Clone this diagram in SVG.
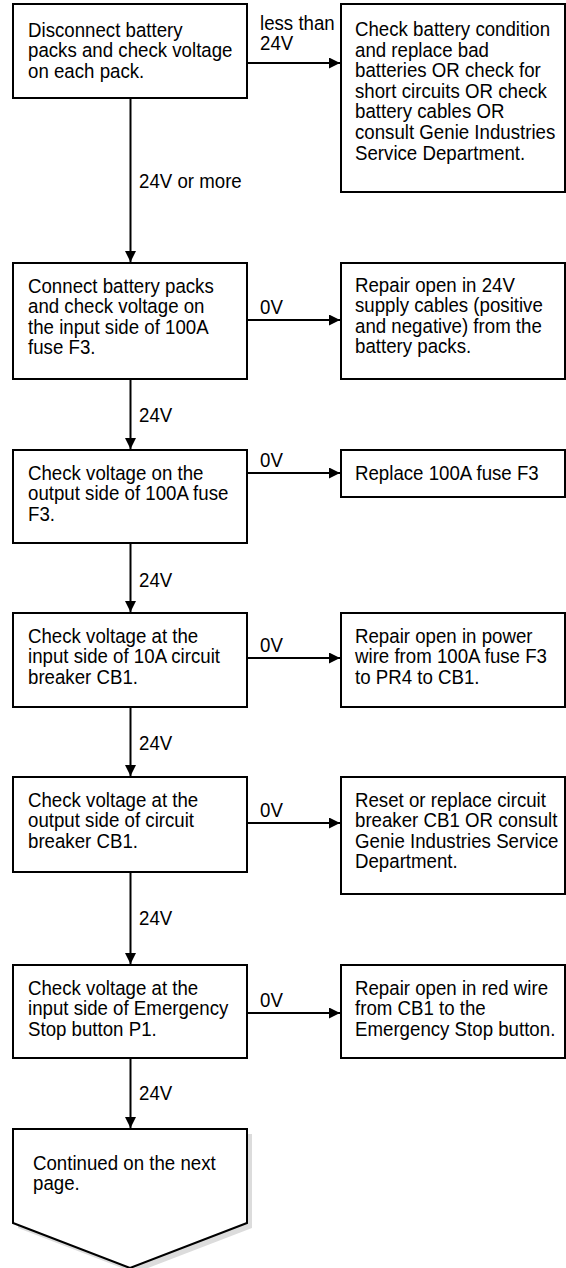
<svg xmlns="http://www.w3.org/2000/svg" width="566" height="1268" viewBox="0 0 566 1268">
<style>
.box{fill:#fff;stroke:#000;stroke-width:2}
.c{fill:none;stroke:#000;stroke-width:2}
.t{font-family:"Liberation Sans",Arial,sans-serif;font-size:20.3px;fill:#000}
</style>
<defs>
<marker id="ah" markerUnits="userSpaceOnUse" markerWidth="11" markerHeight="11" viewBox="0 0 11 11" refX="11" refY="5.5" orient="auto">
<path d="M0,0 L11,5.5 L0,11 z" fill="#000"/>
</marker>
</defs>
<rect width="566" height="1268" fill="#fff"/>
<g id="connectors">
<line class="c" x1="248" y1="63" x2="340" y2="63" marker-end="url(#ah)"/>
<line class="c" x1="130.5" y1="98" x2="130.5" y2="262" marker-end="url(#ah)"/>
<line class="c" x1="248" y1="320" x2="340" y2="320" marker-end="url(#ah)"/>
<line class="c" x1="130.5" y1="379" x2="130.5" y2="449" marker-end="url(#ah)"/>
<line class="c" x1="248" y1="473" x2="340" y2="473" marker-end="url(#ah)"/>
<line class="c" x1="130.5" y1="543" x2="130.5" y2="612" marker-end="url(#ah)"/>
<line class="c" x1="248" y1="658" x2="340" y2="658" marker-end="url(#ah)"/>
<line class="c" x1="130.5" y1="707" x2="130.5" y2="776" marker-end="url(#ah)"/>
<line class="c" x1="248" y1="823" x2="340" y2="823" marker-end="url(#ah)"/>
<line class="c" x1="130.5" y1="872" x2="130.5" y2="964" marker-end="url(#ah)"/>
<line class="c" x1="248" y1="1013" x2="340" y2="1013" marker-end="url(#ah)"/>
<line class="c" x1="130.5" y1="1058" x2="130.5" y2="1128" marker-end="url(#ah)"/>
<text class="t" transform="translate(260,30) scale(0.92,1)"><tspan x="0" y="0">less than</tspan><tspan x="0" y="20.4">24V</tspan></text>
<text class="t" transform="translate(139,188) scale(0.92,1)">24V or more</text>
<text class="t" transform="translate(260,314) scale(0.92,1)">0V</text>
<text class="t" transform="translate(139,422) scale(0.92,1)">24V</text>
<text class="t" transform="translate(260,467) scale(0.92,1)">0V</text>
<text class="t" transform="translate(139,587) scale(0.92,1)">24V</text>
<text class="t" transform="translate(260,652) scale(0.92,1)">0V</text>
<text class="t" transform="translate(139,750) scale(0.92,1)">24V</text>
<text class="t" transform="translate(260,817) scale(0.92,1)">0V</text>
<text class="t" transform="translate(139,925) scale(0.92,1)">24V</text>
<text class="t" transform="translate(260,1007) scale(0.92,1)">0V</text>
<text class="t" transform="translate(139,1100) scale(0.92,1)">24V</text>
</g>
<g id="n1">
<rect class="box" x="13" y="4" width="234" height="94"/>
<text class="t" transform="translate(28,37) scale(0.92,1)"><tspan x="0" y="0">Disconnect battery</tspan><tspan x="0" y="20.4">packs and check voltage</tspan><tspan x="0" y="40.8">on each pack.</tspan></text>
</g>
<g id="r1">
<rect class="box" x="341" y="4" width="224" height="188"/>
<text class="t" transform="translate(355,36) scale(0.92,1)"><tspan x="0" y="0">Check battery condition</tspan><tspan x="0" y="20.6">and replace bad</tspan><tspan x="0" y="41.2">batteries OR check for</tspan><tspan x="0" y="61.8">short circuits OR check</tspan><tspan x="0" y="82.4">battery cables OR</tspan><tspan x="0" y="103">consult Genie Industries</tspan><tspan x="0" y="123.6">Service Department.</tspan></text>
</g>
<g id="n2">
<rect class="box" x="13" y="263" width="234" height="116"/>
<text class="t" transform="translate(28,293) scale(0.92,1)"><tspan x="0" y="0">Connect battery packs</tspan><tspan x="0" y="20.4">and check voltage on</tspan><tspan x="0" y="40.8">the input side of 100A</tspan><tspan x="0" y="61.2">fuse F3.</tspan></text>
</g>
<g id="r2">
<rect class="box" x="341" y="263" width="224" height="116"/>
<text class="t" transform="translate(355,292) scale(0.92,1)"><tspan x="0" y="0">Repair open in 24V</tspan><tspan x="0" y="20.4">supply cables (positive</tspan><tspan x="0" y="40.8">and negative) from the</tspan><tspan x="0" y="61.2">battery packs.</tspan></text>
</g>
<g id="n3">
<rect class="box" x="13" y="450" width="234" height="93"/>
<text class="t" transform="translate(28,480) scale(0.92,1)"><tspan x="0" y="0">Check voltage on the</tspan><tspan x="0" y="20.4">output side of 100A fuse</tspan><tspan x="0" y="40.8">F3.</tspan></text>
</g>
<g id="r3">
<rect class="box" x="341" y="450" width="224" height="47"/>
<text class="t" transform="translate(355,480) scale(0.92,1)">Replace 100A fuse F3</text>
</g>
<g id="n4">
<rect class="box" x="13" y="613" width="234" height="94"/>
<text class="t" transform="translate(28,643) scale(0.92,1)"><tspan x="0" y="0">Check voltage at the</tspan><tspan x="0" y="20.4">input side of 10A circuit</tspan><tspan x="0" y="40.8">breaker CB1.</tspan></text>
</g>
<g id="r4">
<rect class="box" x="341" y="613" width="224" height="94"/>
<text class="t" transform="translate(355,643) scale(0.92,1)"><tspan x="0" y="0">Repair open in power</tspan><tspan x="0" y="20.4">wire from 100A fuse F3</tspan><tspan x="0" y="40.8">to PR4 to CB1.</tspan></text>
</g>
<g id="n5">
<rect class="box" x="13" y="777" width="234" height="95"/>
<text class="t" transform="translate(28,807) scale(0.92,1)"><tspan x="0" y="0">Check voltage at the</tspan><tspan x="0" y="20.4">output side of circuit</tspan><tspan x="0" y="40.8">breaker CB1.</tspan></text>
</g>
<g id="r5">
<rect class="box" x="341" y="777" width="224" height="117"/>
<text class="t" transform="translate(355,807) scale(0.92,1)"><tspan x="0" y="0">Reset or replace circuit</tspan><tspan x="0" y="20.4">breaker CB1 OR consult</tspan><tspan x="0" y="40.8">Genie Industries Service</tspan><tspan x="0" y="61.2">Department.</tspan></text>
</g>
<g id="n6">
<rect class="box" x="13" y="965" width="234" height="93"/>
<text class="t" transform="translate(28,995) scale(0.92,1)"><tspan x="0" y="0">Check voltage at the</tspan><tspan x="0" y="20.4">input side of Emergency</tspan><tspan x="0" y="40.8">Stop button P1.</tspan></text>
</g>
<g id="r6">
<rect class="box" x="341" y="965" width="224" height="93"/>
<text class="t" transform="translate(355,995) scale(0.92,1)"><tspan x="0" y="0">Repair open in red wire</tspan><tspan x="0" y="20.4">from CB1 to the</tspan><tspan x="0" y="40.8">Emergency Stop button.</tspan></text>
</g>
<g id="n7">
<polygon points="18,1134 252,1134 252,1228 135,1273 18,1228" fill="#dcdcdc"/>
<polygon class="box" points="13,1129 247,1129 247,1223 130,1268 13,1223"/>
<text class="t" transform="translate(33,1170) scale(0.92,1)"><tspan x="0" y="0">Continued on the next</tspan><tspan x="0" y="20.4">page.</tspan></text>
</g>
</svg>
